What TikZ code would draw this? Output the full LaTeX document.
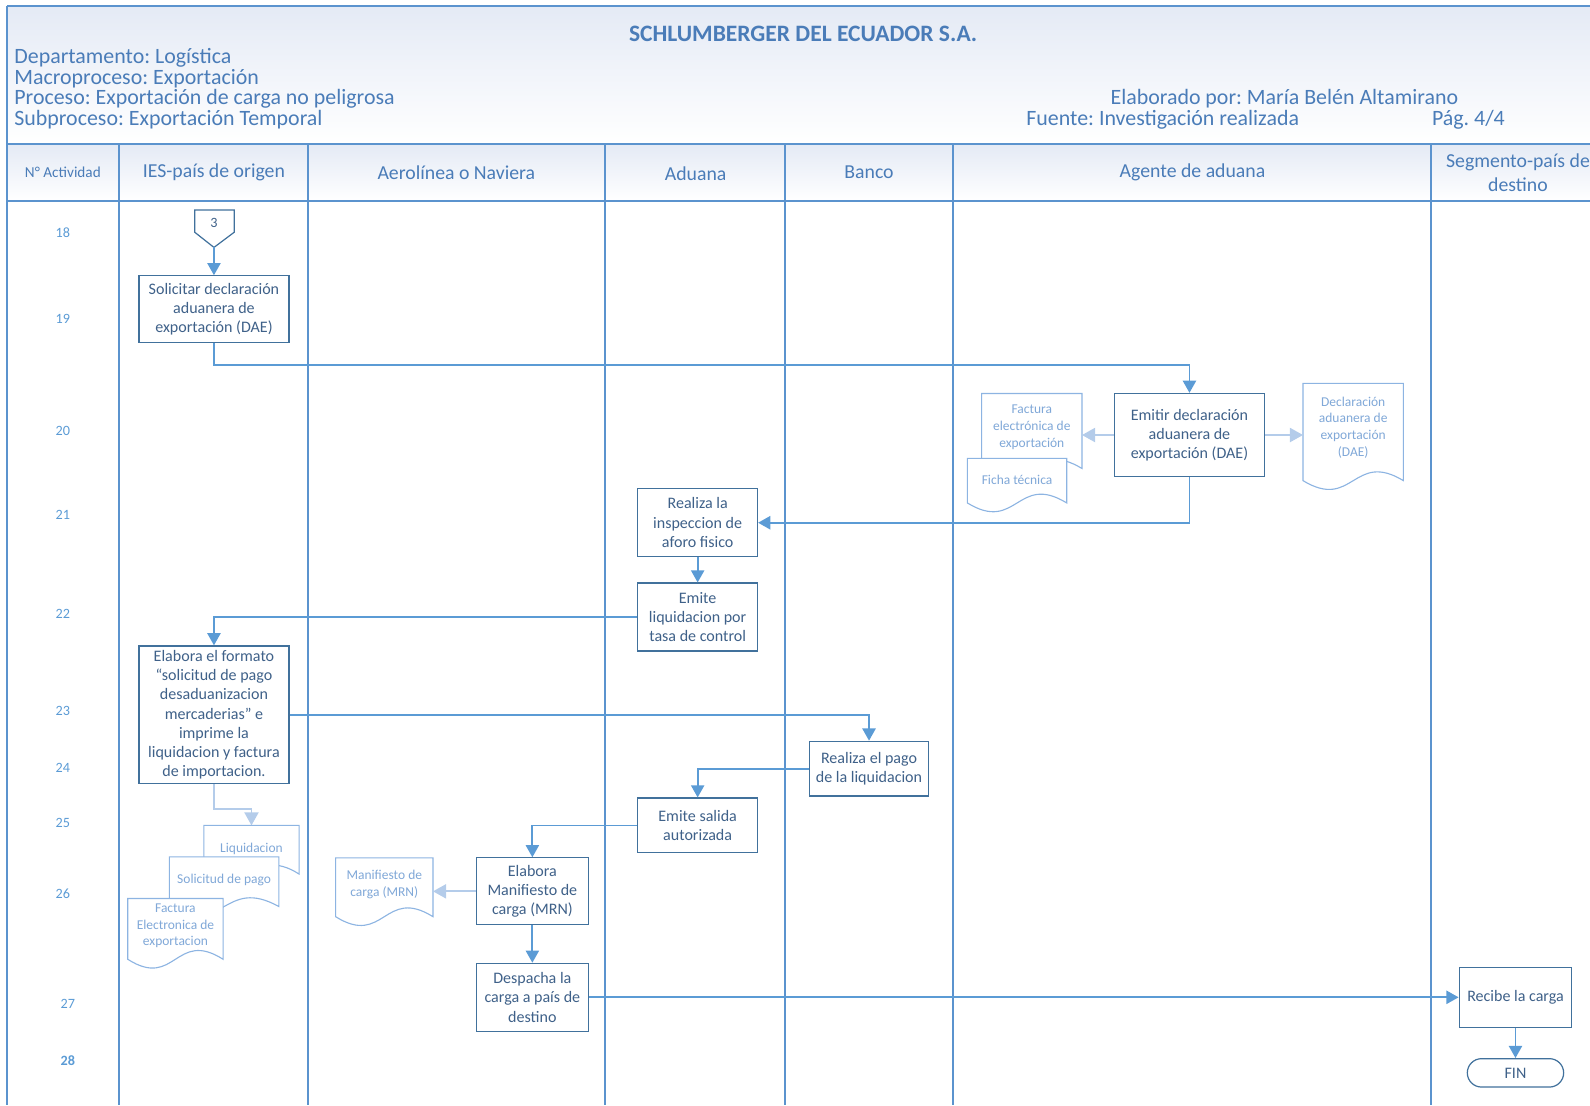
\documentclass[tikz,border=0pt]{standalone}
\usepackage{fontspec}
\setmainfont{Carlito}
\usetikzlibrary{arrows.meta,calc}
\frenchspacing
\definecolor{lanec}{HTML}{5B93CE}
\definecolor{connc}{HTML}{5B9BD5}
\definecolor{boxc}{HTML}{41719C}
\definecolor{boxt}{HTML}{3F6189}
\definecolor{hdrc}{HTML}{4A7CB8}
\definecolor{numc}{HTML}{5B9BD5}
\definecolor{docc}{HTML}{8DB4E2}
\definecolor{doct}{HTML}{80A8D8}
\definecolor{larr}{HTML}{B4CCEA}
\definecolor{shd}{HTML}{E4EAF5}
\tikzset{
  laneline/.style={draw=lanec, line width=1.8pt},
  proc/.style={draw=boxc, line width=1.2pt, fill=white, text=boxt, align=center,
    font=\fontsize{15.8}{19}\selectfont, inner sep=0pt},
  conn/.style={draw=connc, line width=1.8pt, -{Triangle[length=12pt,width=13pt]}},
  lconn/.style={draw=larr, line width=1.8pt, -{Triangle[length=13pt,width=14pt]}},
  docline/.style={draw=docc, line width=1.1pt, fill=white},
  doctext/.style={text=doct, align=center, font=\fontsize{13.3}{16.5}\selectfont, inner sep=0pt},
  hdrtxt/.style={text=hdrc, font=\fontsize{21.6}{20.3}\selectfont, inner sep=0pt},
  colh/.style={text=hdrc, align=center, font=\fontsize{19.5}{23.5}\selectfont, inner sep=0pt},
  numtxt/.style={text=numc, font=\fontsize{14}{16}\selectfont, inner sep=0pt},
}
\newcommand\docsh[7]{%
  \filldraw[docline] (#2,#3) -- (#4,#3) -- (#4,{#5-9}) .. controls ({(#2+#4)/2},{#5-39}) and ({(#2+#4)/2},{#5+21}) .. (#2,{#5-9}) -- cycle;
  \coordinate (#1W) at (#2,{(#3+#5)/2});
  \coordinate (#1E) at (#4,{(#3+#5)/2});
  \coordinate (#1N) at ({(#2+#4)/2},#3);
  \node[doctext] (#1) at ({(#2+#4)/2},#6) {#7};
}
\begin{document}
\begin{tikzpicture}[x=1pt,y=-1pt]
\useasboundingbox (0,0) rectangle (1568,1090);
% header shading
\shade[top color=shd, bottom color=white] (7,6) rectangle (1568,142);
\shade[top color=shd, bottom color=white] (7,142) rectangle (1568,198);
% frame and lanes
\draw[laneline] (7,6) -- (1568,6);
\draw[laneline] (7,6) -- (7,1090);
\draw[laneline] (7,142) -- (1568,142);
\draw[laneline] (7,198) -- (1568,198);
\foreach \xx in {117,304,597,774,940,1411}
  \draw[laneline] (\xx,142) -- (\xx,1090);
% header texts
\node[text=hdrc, font=\fontsize{23.2}{26}\selectfont\bfseries, inner sep=0pt] (title) at (792,33) {SCHLUMBERGER DEL ECUADOR S.A.};
\node[hdrtxt, anchor=base west] (dep) at (14,62.5) {Departamento: Logística};
\node[hdrtxt, anchor=base west] (mac) at (14,83) {Macroproceso: Exportación};
\node[hdrtxt, anchor=base west] (pro) at (14,103.5) {Proceso: Exportación de carga no peligrosa};
\node[hdrtxt, anchor=base west] (sub) at (14,123.5) {Subproceso: Exportación Temporal};
\node[hdrtxt, anchor=base west] (ela) at (1095,103.5) {Elaborado por: María Belén Altamirano};
\node[hdrtxt, anchor=base west] (fue) at (1012,123.5) {Fuente: Investigación realizada};
\node[hdrtxt, anchor=base west] (pag) at (1412,123.5) {Pág. 4/4};
% column headers
\node[colh, font=\fontsize{15}{17}\selectfont] (hN) at (62,170) {N° Actividad};
\node[colh] (hI) at (211,170) {IES-país de origen};
\node[colh] (hA) at (450,170) {Aerolínea o Naviera};
\node[colh] (hD) at (686,171) {Aduana};
\node[colh] (hB) at (857,170) {Banco};
\node[colh] (hG) at (1176,170) {Agente de aduana};
\node[colh] (hS) at (1497,170) {Segmento-país de\\destino};
% activity numbers
\node[numtxt] (n18) at (62,229) {18};
\node[numtxt] (n19) at (62,314) {19};
\node[numtxt] (n20) at (62,425) {20};
\node[numtxt] (n21) at (62,508) {21};
\node[numtxt] (n22) at (62,605) {22};
\node[numtxt] (n23) at (62,701) {23};
\node[numtxt] (n24) at (62,757) {24};
\node[numtxt] (n25) at (62,812) {25};
\node[numtxt] (n26) at (62,881) {26};
\node[numtxt] (n27) at (67,990) {27};
\node[numtxt, font=\fontsize{14}{16}\selectfont\bfseries] (n28) at (67,1046) {28};
% off-page connector
\filldraw[draw=boxc, line width=1.2pt, fill=white] (192,207) -- (231,207) -- (231,229) -- (211,244) -- (192,229) -- cycle;
\node[text=boxt, font=\fontsize{14}{16}\selectfont, inner sep=0pt] (c3) at (211,220) {3};
\coordinate (c3tip) at (211,244);
% process boxes
\node[proc, minimum width=148pt, minimum height=66pt] (b1) at (211,305) {Solicitar declaración\\aduanera de\\exportación (DAE)};
\node[proc, minimum width=148pt, minimum height=82pt] (b2) at (1173,429) {Emitir declaración\\aduanera de\\exportación (DAE)};
\node[proc, minimum width=118pt, minimum height=67pt] (b3) at (688,515.5) {Realiza la\\inspeccion de\\aforo fisico};
\node[proc, minimum width=118pt, minimum height=67pt] (b4) at (688,608.5) {Emite\\liquidacion por\\tasa de control};
\node[proc, minimum width=148pt, minimum height=136pt] (b5) at (211,705) {Elabora el formato\\“solicitud de pago\\desaduanizacion\\mercaderias” e\\imprime la\\liquidacion y factura\\de importacion.};
\node[proc, minimum width=118pt, minimum height=54pt] (b6) at (857,758) {Realiza el pago\\de la liquidacion};
\node[proc, minimum width=118pt, minimum height=54pt] (b7) at (688,814) {Emite salida\\autorizada};
\node[proc, minimum width=110pt, minimum height=66pt] (b8) at (525,879) {Elabora\\Manifiesto de\\carga (MRN)};
\node[proc, minimum width=110pt, minimum height=67pt] (b9) at (525,983.5) {Despacha la\\carga a país de\\destino};
\node[proc, minimum width=111pt, minimum height=59pt] (b10) at (1494.5,983.5) {Recibe la carga};
\node[proc, minimum width=95pt, minimum height=28pt, rounded corners=14pt] (fin) at (1494.5,1058) {FIN};
% documents
\docsh{fac}{968}{388}{1067}{471}{421.5}{Factura\\electrónica de\\exportación}
\docsh{fic}{954}{452}{1052}{505}{473}{Ficha técnica}
\docsh{dae}{1285}{378}{1384}{483}{421.5}{Declaración\\aduanera de\\exportación\\(DAE)}
\docsh{liq}{201}{814}{295}{871}{837}{Liquidacion}
\docsh{sol}{167}{845}{275}{903}{868}{Solicitud de pago}
\docsh{fe}{126}{886}{220}{955}{913}{Factura\\Electronica de\\exportacion}
\docsh{man}{331}{846}{427}{913}{872.5}{Manifiesto de\\carga (MRN)}
% connectors
\draw[conn] (c3tip) -- (b1.north);
\draw[conn] (b1.south) -- ++(0,21) -| (b2.north);
\draw[conn] (b2.south) |- (b3.east);
\draw[conn] (b3.south) -- (b4.north);
\draw[conn] (b4.west) -| (b5.north);
\draw[conn] (b5.east) -| (b6.north);
\draw[conn] (b6.west) -| (b7.north);
\draw[conn] (b7.west) -| (b8.north);
\draw[conn] (b8.south) -- (b9.north);
\draw[conn] (b9.east) -- (b10.west);
\draw[conn] (b10.south) -- (fin.north);
\draw[lconn] (b2.west) -- (b2.west -| facE);
\draw[lconn] (b2.east) -- (b2.east -| daeW);
\draw[lconn] (b8.west) -- (b8.west -| manE);
\draw[lconn] (b5.south) -- ++(0,24) -| (liqN);
\end{tikzpicture}
\end{document}
